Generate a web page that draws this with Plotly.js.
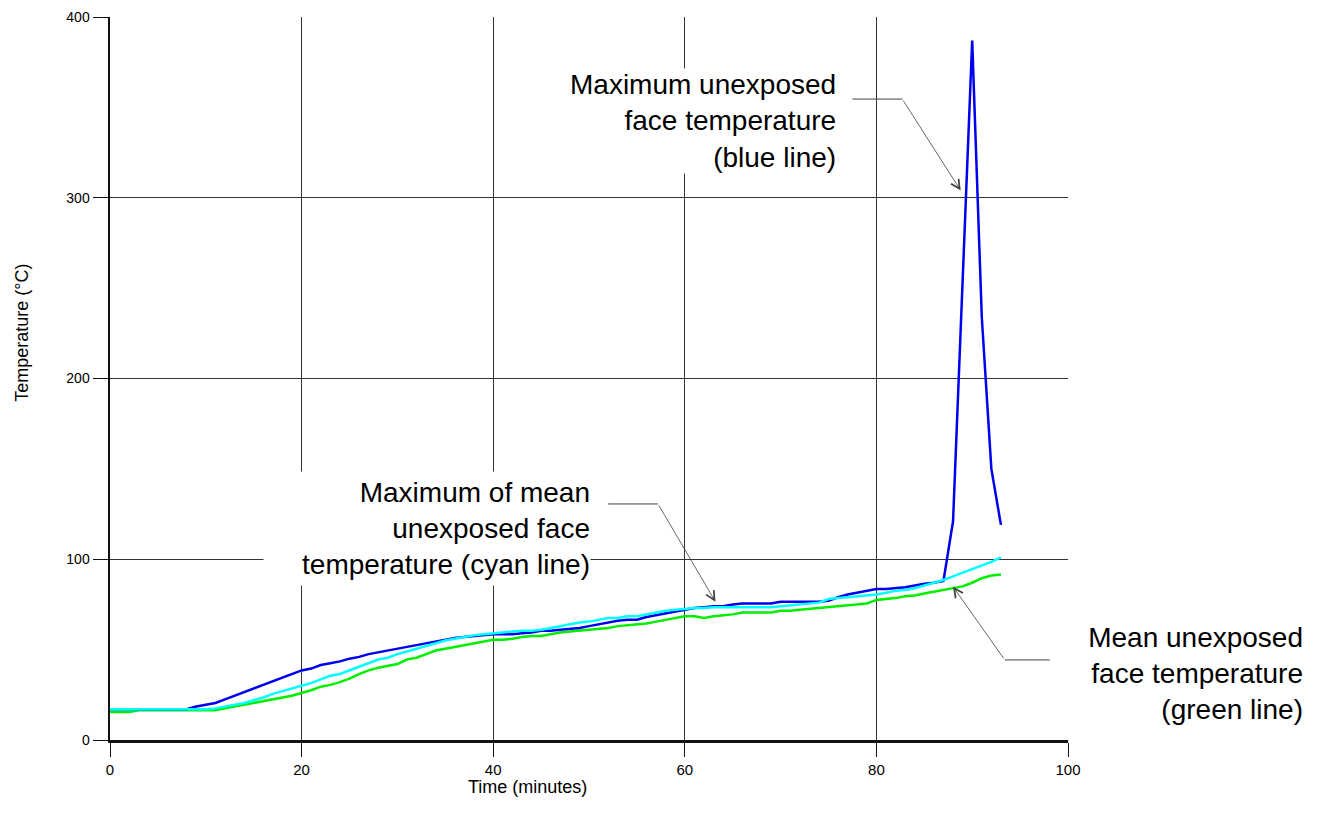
<!DOCTYPE html>
<html>
<head>
<meta charset="utf-8">
<script src="https://cdn.plot.ly/plotly-3.0.1.min.js"></script>
<style>html,body{margin:0;padding:0;background:#fff;}#chart{width:1318px;height:830px;}</style>
</head>
<body>
<div id="chart"></div>
<script>
// Time in minutes
const minutes = [];
for (let i = 0; i <= 93; i++) minutes.push(i);

// Maximum unexposed face temperature (blue line), °C
const maxTemp = [
  17, 17, 17, 17, 17, 17, 17, 17, 17, 18.5,
  19.5, 20.5, 22.5, 24.5, 26.5, 28.5, 30.5, 32.5, 34.5, 36.5,
  38.5, 39.5, 41.5, 42.5, 43.5, 45, 46, 47.5, 48.5, 49.5,
  50.5, 51.5, 52.5, 53.5, 54.5, 55.5, 56.5, 57, 57.5, 58,
  58.5, 58.5, 58.5, 59, 59.5, 60.5, 60.5, 61, 61.5, 62,
  63, 64, 65, 66, 66.5, 66.5, 68, 69, 70, 71,
  72, 73, 73.5, 74, 74, 75, 75.5, 75.5, 75.5, 75.5,
  76.5, 76.5, 76.5, 76.5, 76.5, 77, 79, 80.5, 81.5, 82.5,
  83.5, 83.5, 84, 84.5, 85.5, 86.5, 87, 88, 121, 255,
  387, 234, 150, 119
];

// Maximum of mean unexposed face temperature (cyan line), °C
const maxMeanTemp = [
  17, 17, 17, 17, 17, 17, 17, 17, 17, 17,
  17, 17.5, 18.5, 19.5, 20.5, 22, 23.5, 25.5, 27, 28.5,
  30, 31.5, 33.5, 35.5, 36.5, 38.5, 40.5, 42.5, 44.5, 45.5,
  47.5, 49, 50.5, 52, 53.5, 55, 56, 57, 58, 58.5,
  59, 59.5, 60, 60.5, 60.5, 61, 62, 63, 64, 65,
  65.5, 66.5, 67.5, 67.5, 68.5, 68.5, 69.5, 70.5, 71.5, 72,
  72.5, 73, 73, 73.5, 73.5, 73.5, 73.5, 73.5, 73.5, 73.5,
  74, 74.5, 75, 75.5, 76, 78, 78.5, 79, 79.5, 80,
  80.5, 81.5, 82.5, 83, 84, 85.5, 87, 88.5, 90.5, 92.5,
  94.5, 96.5, 98.5, 101
];

// Mean unexposed face temperature (green line), °C
const meanTemp = [
  15.5, 15.5, 15.5, 16.5, 16.5, 16.5, 16.5, 16.5, 16.5, 16.5,
  16.5, 16.5, 17.5, 18.5, 19.5, 20.5, 21.5, 22.5, 23.5, 24.5,
  26, 27.5, 29.5, 30.5, 32, 34, 36.5, 38.5, 40, 41,
  42, 44.5, 45.5, 47.5, 49.5, 50.5, 51.5, 52.5, 53.5, 54.5,
  55.5, 55.5, 56, 57, 57.5, 57.5, 58.5, 59.5, 60, 60.5,
  61, 61.5, 62, 63, 63.5, 64, 64.5, 65.5, 66.5, 67.5,
  68.5, 68.5, 67.5, 68.5, 69, 69.5, 70.5, 70.5, 70.5, 70.5,
  71.5, 71.5, 72, 72.5, 73, 73.5, 74, 74.5, 75, 75.5,
  77.5, 78, 78.5, 79.5, 80, 81, 82, 83, 84, 85,
  87, 89.5, 91, 91.5
];

const xTickVals = [0, 20, 40, 60, 80, 100];
const yTickVals = [0, 100, 200, 300, 400];

const labelBlue = 'Maximum unexposed<br>face temperature<br>(blue line)';
const labelCyan = 'Maximum of mean<br>unexposed face<br>temperature (cyan line)';
const labelGreen = 'Mean unexposed<br>face temperature<br>(green line)';
const xTitle = 'Time (minutes)';
const yTitle = 'Temperature (°C)';

const FONT = 'Liberation Sans, Arial, sans-serif';
const LEADER = '#404040';

const traces = [
  {x: minutes, y: meanTemp, type: 'scatter', mode: 'lines', name: 'Mean',
   line: {color: '#00ee00', width: 2.5}},
  {x: minutes, y: maxTemp, type: 'scatter', mode: 'lines', name: 'Max',
   line: {color: '#0000ee', width: 2.5}},
  {x: minutes, y: maxMeanTemp, type: 'scatter', mode: 'lines', name: 'Max of mean',
   line: {color: '#00ffff', width: 2.5}}
];

const labelFont = {family: FONT, size: 28, color: '#000'};

const layout = {
  width: 1318, height: 830,
  margin: {l: 110, r: 250, t: 17, b: 90},
  paper_bgcolor: '#fff', plot_bgcolor: '#fff',
  showlegend: false,
  font: {family: FONT, color: '#000'},
  xaxis: {
    range: [0, 100], tickvals: xTickVals, ticktext: xTickVals.map(String),
    showgrid: true, gridcolor: '#333', gridwidth: 1,
    showline: true, linecolor: '#111', linewidth: 2.5,
    zeroline: false, ticks: 'outside', ticklen: 14, tickwidth: 1, tickcolor: '#111',
    tickfont: {family: FONT, size: 15, color: '#000'}
  },
  yaxis: {
    range: [0, 400], tickvals: yTickVals, ticktext: yTickVals.map(String),
    showgrid: true, gridcolor: '#333', gridwidth: 1,
    showline: true, linecolor: '#111', linewidth: 2.5,
    zeroline: false, ticks: 'outside', ticklen: 15, tickwidth: 1, tickcolor: '#111',
    tickfont: {family: FONT, size: 14, color: '#000'}
  },
  shapes: [
    {type: 'line', xref: 'x', yref: 'y', x0: 77.5, y0: 354.6, x1: 82.7, y1: 354.6,
     line: {color: LEADER, width: 1}},
    {type: 'line', xref: 'x', yref: 'y', x0: 52.0, y0: 130.6, x1: 57.2, y1: 130.6,
     line: {color: LEADER, width: 1}},
    {type: 'line', xref: 'x', yref: 'y', x0: 93.4, y0: 44.3, x1: 98.1, y1: 44.3,
     line: {color: LEADER, width: 1}}
  ],
  annotations: [
    // label boxes
    {xref: 'paper', yref: 'paper', x: 0.7589, y: 0.8568, xanchor: 'right', yanchor: 'middle',
     text: labelBlue, align: 'right', showarrow: false, font: labelFont,
     bgcolor: '#fff', borderpad: 0},
    {xref: 'paper', yref: 'paper', x: 0.5021, y: 0.2925, xanchor: 'right', yanchor: 'middle',
     text: labelCyan, align: 'right', showarrow: false, font: labelFont,
     bgcolor: '#fff', borderpad: 0, width: 326, height: 113},
    {xref: 'paper', yref: 'paper', x: 1.2463, y: 0.092, xanchor: 'right', yanchor: 'middle',
     text: labelGreen, align: 'right', showarrow: false, font: labelFont,
     bgcolor: '#fff', borderpad: 0, width: 240, height: 107},
    // leader arrows
    {xref: 'x', yref: 'y', x: 88.8, y: 304, axref: 'x', ayref: 'y', ax: 82.7, ay: 354.6,
     text: '', showarrow: true, arrowhead: 5, arrowsize: 2.2, arrowwidth: 0.8, arrowcolor: LEADER},
    {xref: 'x', yref: 'y', x: 63.2, y: 76.5, axref: 'x', ayref: 'y', ax: 57.2, ay: 130.6,
     text: '', showarrow: true, arrowhead: 5, arrowsize: 2.2, arrowwidth: 0.8, arrowcolor: LEADER},
    {xref: 'x', yref: 'y', x: 88.0, y: 84.8, axref: 'x', ayref: 'y', ax: 93.4, ay: 44.3,
     text: '', showarrow: true, arrowhead: 5, arrowsize: 2.2, arrowwidth: 0.8, arrowcolor: LEADER},
    // axis titles
    {xref: 'paper', yref: 'paper', x: 0.436, y: -0.065, xanchor: 'center', yanchor: 'middle',
     text: xTitle, showarrow: false,
     font: {family: FONT, size: 18, color: '#000'}},
    {xref: 'paper', yref: 'paper', x: -0.092, y: 0.563, xanchor: 'center', yanchor: 'middle',
     text: yTitle, showarrow: false, textangle: -90,
     font: {family: FONT, size: 18, color: '#000'}}
  ]
};

Plotly.newPlot('chart', traces, layout, {displayModeBar: false, staticPlot: true});
</script>
</body>
</html>
